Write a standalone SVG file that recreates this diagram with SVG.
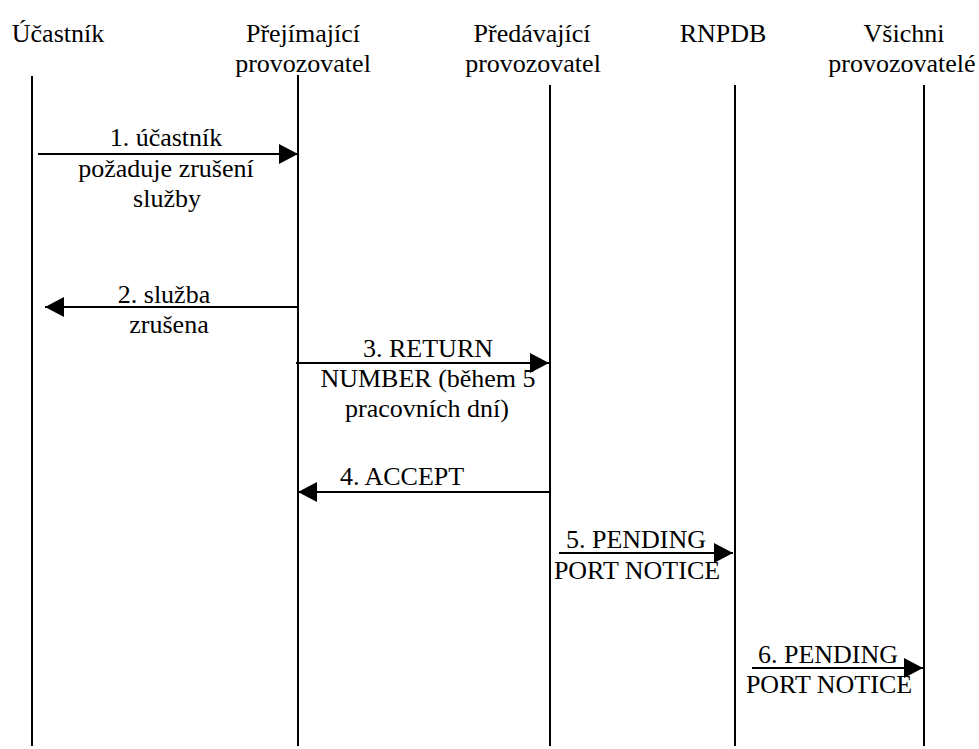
<svg xmlns="http://www.w3.org/2000/svg" width="979" height="749" viewBox="0 0 979 749">
<style>
.t{font-family:'Liberation Serif','Times New Roman',serif;font-size:26px;fill:#000;text-anchor:middle}
.life{stroke:#000;stroke-width:2;fill:none}
.msg{stroke:#000;stroke-width:2;fill:none;marker-end:url(#ah)}
</style>
<defs>
<marker id="ah" markerUnits="userSpaceOnUse" markerWidth="20" markerHeight="20" refX="19" refY="10" orient="auto" viewBox="0 0 20 20">
<path d="M0,0 L19,10 L0,20 z" fill="#000"/>
</marker>
</defs>
<rect width="979" height="749" fill="#fff"/>
<g id="ucastnik" class="t">
<text x="58" y="42">Účastník</text>
<line class="life" x1="32" y1="76" x2="32" y2="746"/>
</g>
<g id="prejimajici" class="t">
<text x="303" y="42">Přejímající</text>
<text x="303" y="72">provozovatel</text>
<line class="life" x1="298" y1="75" x2="298" y2="746"/>
</g>
<g id="predavajici" class="t">
<text x="532" y="42">Předávající</text>
<text x="533" y="72">provozovatel</text>
<line class="life" x1="550" y1="85" x2="550" y2="746"/>
</g>
<g id="rnpdb" class="t">
<text x="723" y="42">RNPDB</text>
<line class="life" x1="735" y1="85" x2="735" y2="746"/>
</g>
<g id="vsichni" class="t">
<text x="904" y="42">Všichni</text>
<text x="902" y="72">provozovatelé</text>
<line class="life" x1="924" y1="85" x2="924" y2="746"/>
</g>
<g id="connectors">
<line class="msg" x1="38" y1="154" x2="298" y2="154"/>
<line class="msg" x1="298" y1="307" x2="45" y2="307"/>
<line class="msg" x1="296" y1="363" x2="549" y2="363"/>
<line class="msg" x1="550" y1="492" x2="298" y2="492"/>
<line class="msg" x1="559" y1="553" x2="733" y2="553"/>
<line class="msg" x1="752" y1="668" x2="923" y2="668"/>
</g>
<g id="labels" class="t">
<text x="166" y="146">1. účastník</text>
<text x="166" y="177">požaduje zrušení</text>
<text x="167" y="207">služby</text>
<text x="164" y="303">2. služba</text>
<text x="169" y="333">zrušena</text>
<text x="428" y="357">3. RETURN</text>
<text x="428" y="387">NUMBER (během 5</text>
<text x="427" y="417">pracovních dní)</text>
<text x="402" y="485">4. ACCEPT</text>
<text x="636" y="548">5. PENDING</text>
<text x="637" y="579">PORT NOTICE</text>
<text x="828" y="663">6. PENDING</text>
<text x="829" y="693">PORT NOTICE</text>
</g>
</svg>
